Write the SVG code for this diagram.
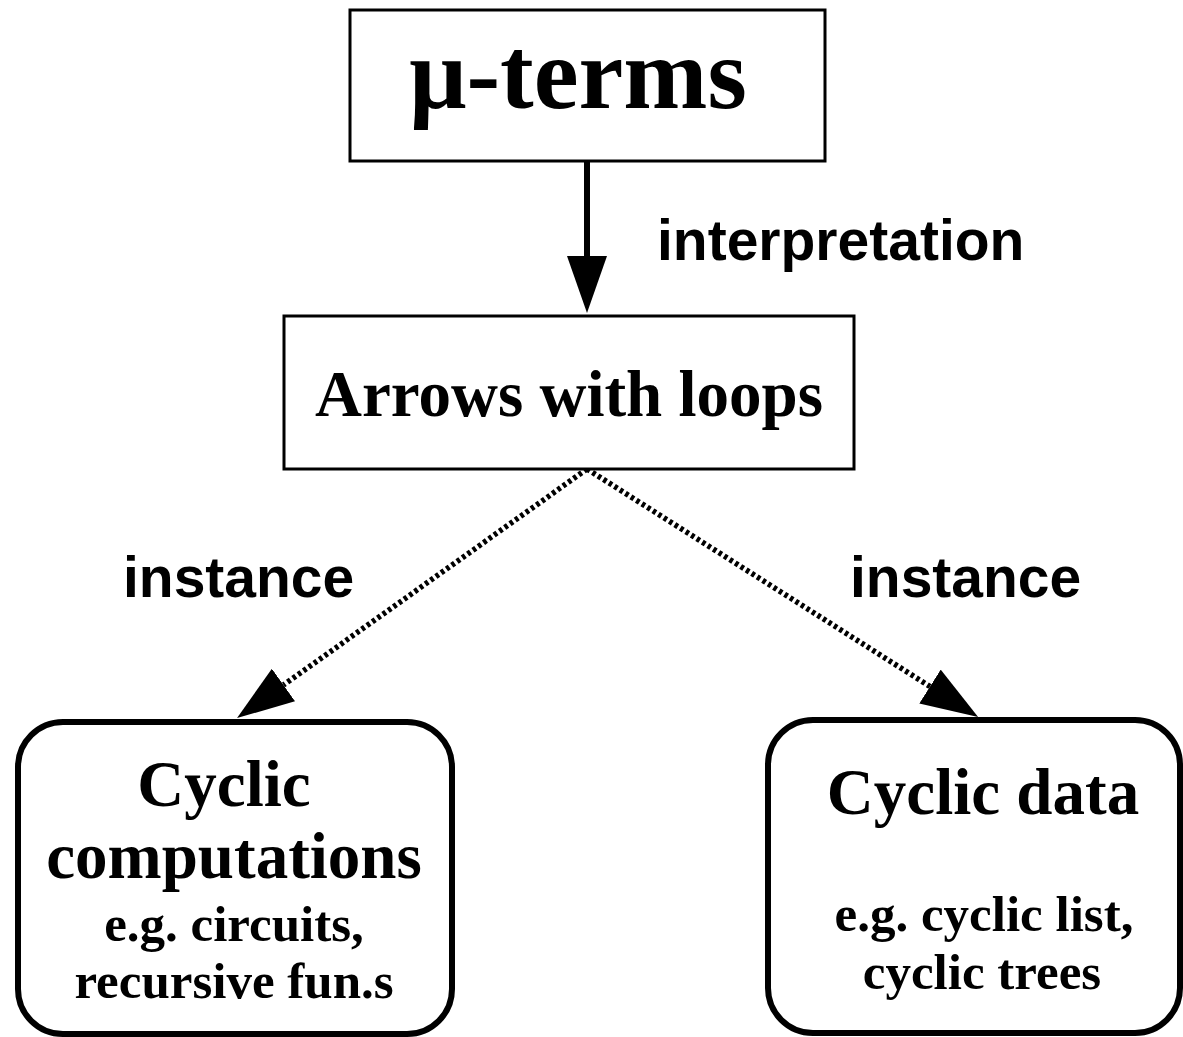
<svg xmlns="http://www.w3.org/2000/svg" width="1183" height="1037" viewBox="0 0 1183 1037">
<style>
.box{fill:#fff;stroke:#000;stroke-width:3}
.rbox{fill:#fff;stroke:#000;stroke-width:6}
.serif{font-family:"Liberation Serif","Times New Roman",serif;font-weight:bold;fill:#000;text-anchor:middle}
.sans{font-family:"Liberation Sans",Arial,sans-serif;font-weight:bold;fill:#000}
.solid{stroke:#000;stroke-width:6;fill:none}
.dotted{stroke:#000;stroke-width:5.5;fill:none;stroke-dasharray:3.5 3}
</style>
<defs>
<marker id="ah" markerUnits="userSpaceOnUse" viewBox="0 0 57 40" refX="0" refY="20" markerWidth="57" markerHeight="40" orient="auto">
<path d="M0,0 L57,20 L0,40 z" fill="#000"/>
</marker>
</defs>
<rect width="1183" height="1037" fill="#fff"/>
<g id="connectors">
<line class="solid" x1="587" y1="162" x2="587" y2="256" marker-end="url(#ah)"/>
<line class="dotted" x1="587" y1="469" x2="283.5" y2="685" marker-end="url(#ah)"/>
<line class="dotted" x1="587" y1="469" x2="930" y2="686.5" marker-end="url(#ah)"/>
<text class="sans" x="657" y="260" font-size="57">interpretation</text>
<text class="sans" x="123" y="597" font-size="57">instance</text>
<text class="sans" x="850" y="597" font-size="57">instance</text>
</g>
<g id="mu-terms">
<rect class="box" x="350" y="10" width="475" height="151"/>
<text class="serif" x="578" y="108" font-size="101">μ-terms</text>
</g>
<g id="arrows-with-loops">
<rect class="box" x="284" y="316" width="570" height="153"/>
<text class="serif" x="569" y="416" font-size="65">Arrows with loops</text>
</g>
<g id="cyclic-computations">
<rect class="rbox" x="18" y="722" width="434" height="312" rx="45"/>
<text class="serif" x="224" y="806" font-size="65">Cyclic</text>
<text class="serif" x="234" y="878" font-size="65">computations</text>
<text class="serif" x="234" y="941" font-size="51">e.g. circuits,</text>
<text class="serif" x="234" y="998" font-size="51">recursive fun.s</text>
</g>
<g id="cyclic-data">
<rect class="rbox" x="768" y="720" width="412" height="313" rx="45"/>
<text class="serif" x="983" y="814" font-size="65">Cyclic data</text>
<text class="serif" x="984" y="931" font-size="51">e.g. cyclic list,</text>
<text class="serif" x="982" y="989" font-size="51">cyclic trees</text>
</g>
</svg>
